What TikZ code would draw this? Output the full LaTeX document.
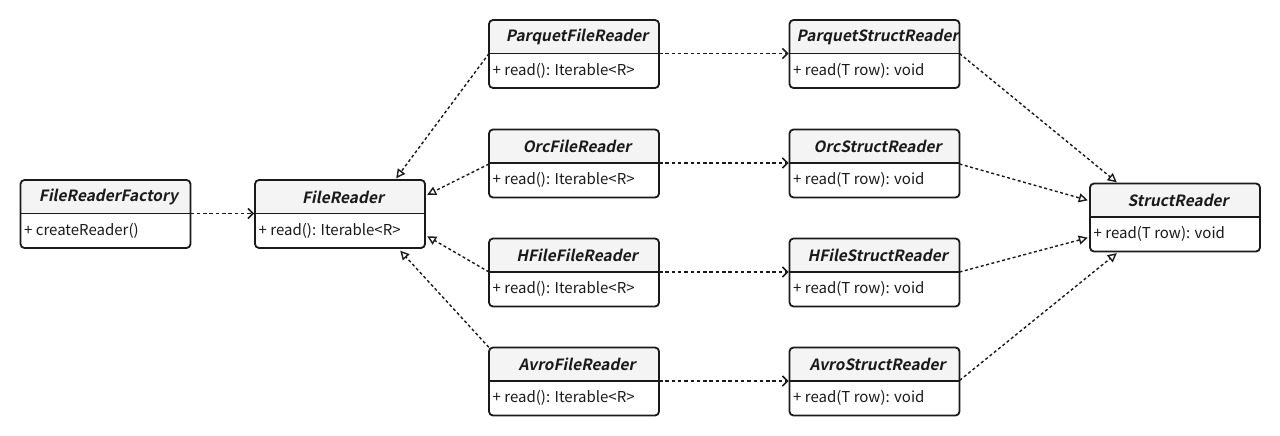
\documentclass[tikz,border=0pt]{standalone}
\usepackage{fontspec}
\setmainfont{Noto Sans CJK SC}
\newfontfamily\titlefont{Noto Sans CJK SC Bold}[FakeSlant=0.2]
\usetikzlibrary{arrows.meta,calc}
\definecolor{hdr}{HTML}{F4F4F4}
\definecolor{ink}{HTML}{1A1A1A}
\tikzset{
  boxline/.style={draw=ink,line width=1.8pt,rounded corners=4pt},
  clsbox/.style={rectangle,inner sep=0pt,minimum width=170pt,minimum height=68pt},
  titletext/.style={font=\titlefont\fontsize{15.5}{18}\selectfont,text=ink,inner sep=0pt},
  bodytext/.style={font=\fontsize{15}{17}\selectfont,text=ink,inner sep=0pt,anchor=west},
  dep/.style={draw=ink,line width=1.6pt,dash pattern=on 3.5pt off 2.8pt,-{Straight Barb[length=5pt,width=10pt,line width=1.5pt]}},
  real/.style={draw=ink,line width=1.4pt,dash pattern=on 3pt off 2.5pt,-{Triangle[open,length=9pt,width=9pt,line width=1.4pt,fill=white]}},
}
% name, x1, y1, title, body
\newcommand\umlcls[5]{%
  \node[clsbox] (#1) at (#2+85,#3+34) {};
  \begin{scope}
    \clip (#2,#3) rectangle (#2+170,#3+33.5);
    \fill[hdr,rounded corners=4pt] (#2,#3) rectangle (#2+170,#3+68);
  \end{scope}
  \draw[boxline] (#2,#3) rectangle (#2+170,#3+68);
  \draw[draw=ink,line width=1.8pt] (#2,#3+33.5) -- (#2+170,#3+33.5);
  \coordinate (#1-dl) at (#2,#3+33.5);
  \coordinate (#1-dr) at (#2+170,#3+33.5);
  \node[titletext] (#1-t) at (#2+88,#3+17) {#4};
  \node[bodytext] (#1-b) at (#2+3.5,#3+50.5) {#5};
}
\begin{document}
\begin{tikzpicture}[x=1pt,y=-1pt]
\fill[white] (0,0) rectangle (1280,436);
\useasboundingbox (0,0) rectangle (1280,436);

\umlcls{fac}{20.5}{180}{FileReaderFactory}{+ createReader()}
\umlcls{fr}{255}{180}{FileReader}{+ read(): Iterable<R>}
\umlcls{pfr}{489}{20}{ParquetFileReader}{+ read(): Iterable<R>}
\umlcls{ofr}{489}{129.5}{OrcFileReader}{+ read(): Iterable<R>}
\umlcls{hfr}{489}{238.5}{HFileFileReader}{+ read(): Iterable<R>}
\umlcls{afr}{489}{347.5}{AvroFileReader}{+ read(): Iterable<R>}
\umlcls{psr}{789.5}{20}{ParquetStructReader}{+ read(T row): void}
\umlcls{osr}{789.5}{129.5}{OrcStructReader}{+ read(T row): void}
\umlcls{hsr}{789.5}{238.5}{HFileStructReader}{+ read(T row): void}
\umlcls{asr}{789.5}{347.5}{AvroStructReader}{+ read(T row): void}
\umlcls{sr}{1090}{183.5}{StructReader}{+ read(T row): void}

% dependencies
\draw[dep] (fac-dr) -- ($(fr-dl)+(-1,0)$);
\draw[dep] (pfr-dr) -- ($(psr-dl)+(-1,0)$);
\draw[dep] (ofr-dr) -- ($(osr-dl)+(-1,0)$);
\draw[dep] (hfr-dr) -- ($(hsr-dl)+(-1,0)$);
\draw[dep] (afr-dr) -- ($(asr-dl)+(-1,0)$);

% realizations to FileReader
\draw[real] (pfr-dl) -- ($(fr.north east)+(-29,-1.5)$);
\draw[real] ($(ofr-dl)+(0,1)$) -- ($(fr.north east)+(2,15)$);
\draw[real] (hfr-dl) -- ($(fr.south east)+(2,-12)$);
\draw[real] (afr.north west) -- ($(fr.south east)+(-25,2.5)$);

% realizations to StructReader
\draw[real] (psr-dr) -- ($(sr.north west)+(27,-1)$);
\draw[real] ($(osr-dr)+(0,1)$) -- ($(sr.north west)+(-2,17)$);
\draw[real] (hsr-dr) -- ($(sr.south west)+(-2,-14)$);
\draw[real] ($(asr.north east)+(0,33)$) -- ($(sr.south west)+(27,1.5)$);
\end{tikzpicture}
\end{document}
